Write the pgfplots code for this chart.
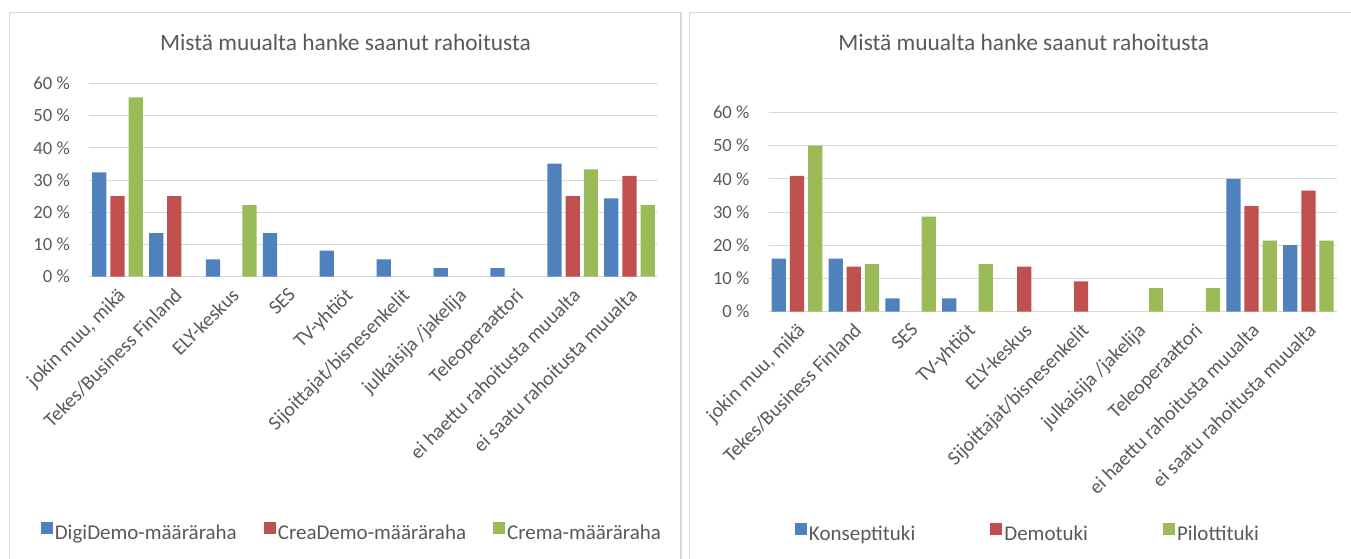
\documentclass[border=0pt]{standalone}
\usepackage{fontspec}
\setmainfont{Carlito}
\usepackage{pgfplots}
\pgfplotsset{compat=1.18}

\definecolor{xblue}{HTML}{4F81BD}
\definecolor{xred}{HTML}{C0504D}
\definecolor{xgreen}{HTML}{9BBB59}
\definecolor{xtext}{HTML}{595959}
\definecolor{xgrid}{HTML}{D9D9D9}

\pgfplotsset{
  rahoitus/.style={
    scale only axis,
    ybar,
    ymin=0, ymax=60,
    xmin=-0.5, xmax=9.5,
    xtick={0,...,9},
    ytick={0,10,...,60},
    yticklabel={\pgfmathprintnumber{\tick}~\%},
    /pgf/number format/assume math mode=true,
    ymajorgrids,
    major grid style={draw=xgrid, line width=1pt},
    axis lines*=left,
    axis line style={-},
    y axis line style={draw=none},
    x axis line style={draw=xgrid, line width=1pt},
    tick style={draw=none},
    major tick length=0pt,
    yticklabel style={font=\fontsize{18.6}{18.6}\selectfont, text=xtext, inner sep=0pt, xshift=-19pt},
    xticklabel style={font=\fontsize{20}{20}\selectfont, text=xtext,
      xshift=-1pt, yshift=-10pt, rotate=45, anchor=north east, inner sep=0pt},
    bar width=0.25,
    legend columns=3,
    legend cell align=left,
    legend style={draw=none, fill=none, font=\fontsize{21}{21}\selectfont, text=xtext,
      anchor=center},
    legend image code/.code={\fill[##1] (0pt,-1pt) rectangle (12pt,11pt);},
  },
  s1/.style={fill=xblue, draw=none, bar shift=-0.32},
  s2/.style={fill=xred, draw=none, bar shift=0},
  s3/.style={fill=xgreen, draw=none, bar shift=0.32},
}

\begin{document}
\begin{tikzpicture}[x=1pt,y=1pt]
% chart frames
\draw[xgrid, line width=1.2pt] (9.5,-10) -- (9.5,545.3) -- (681,545.3) -- (681,-10);
\draw[xgrid, line width=1.2pt] (689.3,-10) -- (689.3,545.3) -- (1400,545.3);

\node[anchor=base, text=xtext, font=\fontsize{23.4}{23.4}\selectfont] at (345.5,507) {Mistä muualta hanke saanut rahoitusta};
\node[anchor=base, text=xtext, font=\fontsize{23.4}{23.4}\selectfont] at (1023.8,507) {Mistä muualta hanke saanut rahoitusta};

\begin{axis}[rahoitus,
  at={(89pt,281.3pt)}, anchor=south west,
  width=569pt, height=193.4pt,
  xticklabels={{jokin muu, mikä}, Tekes/Business Finland, ELY-keskus, SES, TV-yhtiöt,
    Sijoittajat/bisnesenkelit, julkaisija /jakelija, Teleoperaattori,
    ei haettu rahoitusta muualta, ei saatu rahoitusta muualta},
  legend style={at={(0.462,-1.325)},
    /tikz/every even column/.append style={column sep=25pt}},
]
\addplot[s1] coordinates {(0,32.4) (1,13.5) (2,5.4) (3,13.5) (4,8.1) (5,5.4) (6,2.7) (7,2.7) (8,35.1) (9,24.3)};
\addlegendentry{DigiDemo-määräraha}
\addplot[s2] coordinates {(0,25) (1,25) (8,25) (9,31.25)};
\addlegendentry{CreaDemo-määräraha}
\addplot[s3] coordinates {(0,55.6) (2,22.2) (8,33.3) (9,22.2)};
\addlegendentry{Crema-määräraha}
\end{axis}

\begin{axis}[rahoitus,
  at={(768.6pt,246.3pt)}, anchor=south west,
  width=568.2pt, height=199.4pt,
  xticklabels={{jokin muu, mikä}, Tekes/Business Finland, SES, TV-yhtiöt, ELY-keskus,
    Sijoittajat/bisnesenkelit, julkaisija /jakelija, Teleoperaattori,
    ei haettu rahoitusta muualta, ei saatu rahoitusta muualta},
  legend style={at={(0.4565,-1.112)},
    /tikz/every even column/.append style={column sep=73pt}},
]
\addplot[s1] coordinates {(0,16) (1,16) (2,4) (3,4) (8,40) (9,20)};
\addlegendentry{Konseptituki}
\addplot[s2] coordinates {(0,40.9) (1,13.6) (4,13.6) (5,9.1) (8,31.8) (9,36.4)};
\addlegendentry{Demotuki}
\addplot[s3] coordinates {(0,50) (1,14.3) (2,28.6) (3,14.3) (6,7.1) (7,7.1) (8,21.4) (9,21.4)};
\addlegendentry{Pilottituki}
\end{axis}

\pgfresetboundingbox
\path (0,0) rectangle (1351,558);
\end{tikzpicture}
\end{document}
